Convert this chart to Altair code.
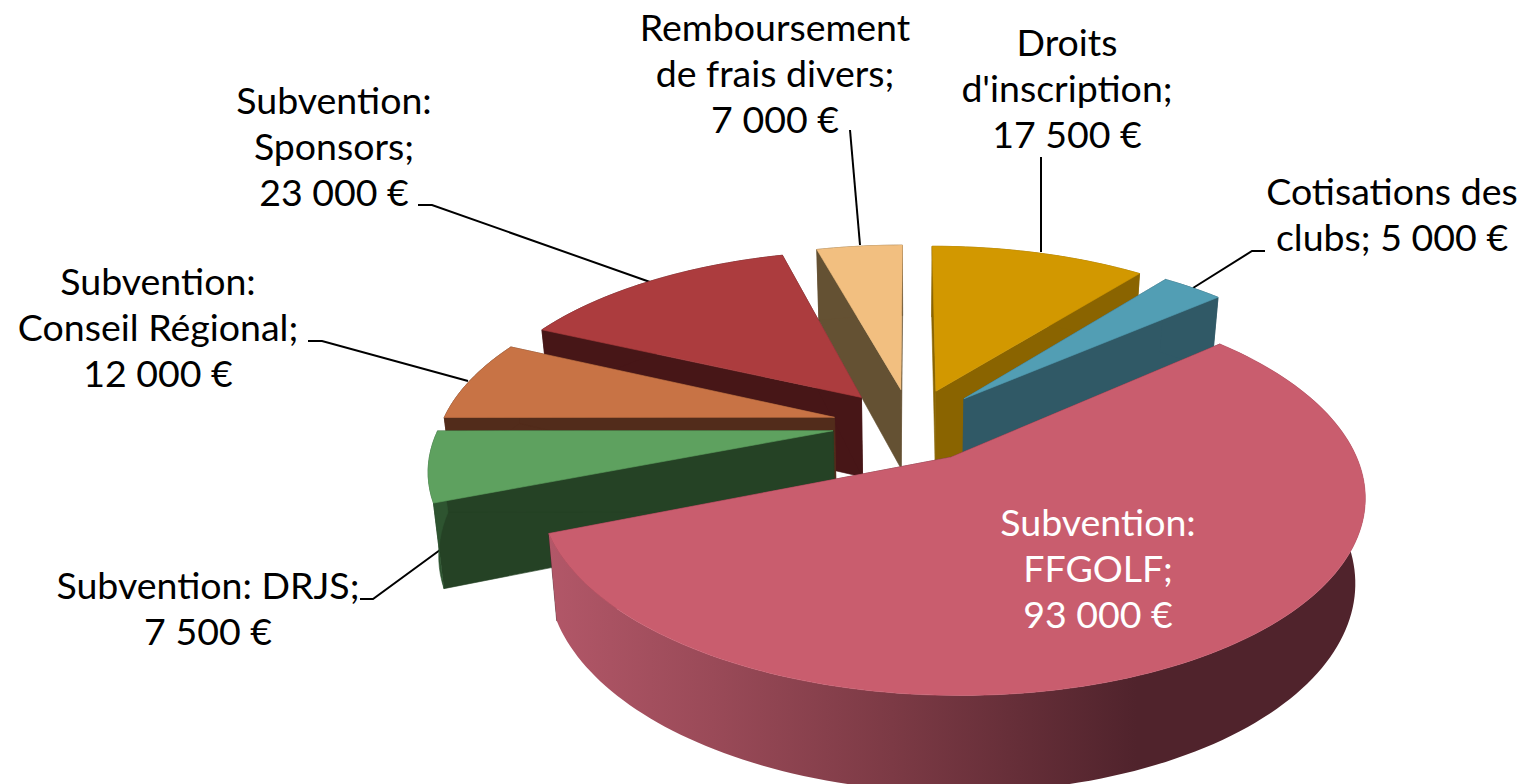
import math
import altair as alt
import pandas as pd

# ---- values (clockwise from 12 o'clock)
categories = ["Droits d'inscription", "Cotisations des clubs", "Subvention: FFGOLF", "Subvention: DRJS",
              "Subvention: Conseil Régional", "Subvention: Sponsors", "Remboursement de frais divers"]
values = [17500, 5000, 93000, 7500, 12000, 23000, 7000]
label_lines = [["Droits", "d'inscription;"], ["Cotisations des", "clubs;"], ["Subvention:", "FFGOLF;"],
               ["Subvention: DRJS;"], ["Subvention:", "Conseil Régional;"], ["Subvention:", "Sponsors;"],
               ["Remboursement", "de frais divers;"]]
top_colors = ["#D29800", "#529EB4", "#C95D6E", "#5EA15F", "#C87345", "#AC3C3E", "#F2BF80"]
wall_colors = ["#8A6400", "#305966", "#50232C", "#254225", "#522C1B", "#471617", "#645133"]
rim_colors = ["#8A6400", "#305966", "#50232C", "#2E5430", "#522C1B", "#471617", "#645133"]
draw_order = [0, 1, 6, 5, 4, 3, 2]
big_slice = 2

# layout of the labels: first text line of each block, and its leader line
label_x = [1067, 1392, 1098, 208, 158, 334, 775]
label_y = [45, 194, 525, 588, 284, 103, 30]
LINE_H = 46
leaders = {0: [(1041, 157), (1041, 252)],
           1: [(1265, 251), (1252, 251), (1193, 288)],
           3: [(360, 599), (373, 599), (440, 550)],
           4: [(308, 341), (322, 341), (468, 381)],
           5: [(418, 205), (432, 205), (650, 282)],
           6: [(850, 130), (860, 245)]}

# ---- 3-D pie projection
CX, CY, A, B, K, Q, H, EXPL = 911, 424.5, 393, 182, 0.18, 0.978, 81, 0.2
# small view correction of the drawn angle, in degrees (camera rotation of the original 3-D view)
VIEW_DEG = [0, 200, 252, 268.4, 294.6, 345, 360]
VIEW_OFF = [0, 0, -3.5, 1.6, 0.4, 0, 0]


def view(a):
    d = math.degrees(a)
    for d0, d1, o0, o1 in zip(VIEW_DEG, VIEW_DEG[1:], VIEW_OFF, VIEW_OFF[1:]):
        if d <= d1:
            return math.radians(d + o0 + (o1 - o0) * (d - d0) / (d1 - d0))
    return a


def proj(px, py, bottom=False):
    s = 1 / (1 + K * py)
    x = CX + A * px * s
    y = CY - B * py * s
    if bottom:
        x = CX + (x - CX) * Q
        y = CY + (y - CY) * Q + H * s
    return x, y


back, top = [], []
wall_rows = []
pid = 0


def add(store, points, color):
    global pid
    pid += 1
    for n, (x, y) in enumerate(points + points[:1]):
        store.append({"poly": pid, "v": n, "x": x, "y": y, "c": color})


total = sum(values)
starts, acc = [], 0.0
for v in values:
    starts.append(acc)
    acc += v / total * 2 * math.pi

for i in draw_order:
    a0 = starts[i]
    a1 = a0 + values[i] / total * 2 * math.pi
    mid = (a0 + a1) / 2
    ox, oy = EXPL * math.sin(mid), EXPL * math.cos(mid)
    pt = lambda a: (ox + math.sin(view(a)), oy + math.cos(view(a)))
    n = max(3, int((a1 - a0) * 40))
    ang = [a0 + (a1 - a0) * j / n for j in range(n + 1)]
    apex = (ox, oy)
    for a in (a0, a1):
        add(back, [proj(*apex), proj(*pt(a)), proj(*pt(a), True), proj(*apex, True)], wall_colors[i])
    rim = [proj(*pt(a)) for a in ang] + [proj(*pt(a), True) for a in reversed(ang)]
    face = [proj(*apex)] + [proj(*pt(a)) for a in ang]
    if i == big_slice:
        add(wall_rows, rim, wall_colors[i])
        add(top, face, top_colors[i])
    else:
        add(back, rim, rim_colors[i])
        add(back, face, top_colors[i])

xs = alt.Scale(domain=[8, 1526], nice=False, zero=False)
ys = alt.Scale(domain=[784, 8], nice=False, zero=False)
X = alt.X("x:Q", scale=xs, axis=None)
Y = alt.Y("y:Q", scale=ys, axis=None)


def polygons(rows):
    return alt.Chart(pd.DataFrame(rows)).mark_line(filled=True, strokeWidth=0.6, clip=True).encode(
        x=X, y=Y, order="v:Q", detail="poly:N",
        fill=alt.Fill("c:N", scale=None, legend=None),
        stroke=alt.Stroke("c:N", scale=None, legend=None))


shade = alt.Gradient(gradient="linear", x1=0, x2=1, y1=0, y2=0, stops=[
    alt.GradientStop(color="#B25768", offset=0),
    alt.GradientStop(color="#9A4A58", offset=0.2),
    alt.GradientStop(color="#7C3A45", offset=0.42),
    alt.GradientStop(color="#50232C", offset=0.72),
    alt.GradientStop(color="#50232C", offset=1)])
wall = alt.Chart(pd.DataFrame(wall_rows)).mark_line(filled=True, color=shade, strokeWidth=0, clip=True).encode(
    x=X, y=Y, order="v:Q", detail="poly:N")

leader_rows = [{"k": k, "v": n, "x": p[0], "y": p[1]} for k, pts in leaders.items() for n, p in enumerate(pts)]
lead = alt.Chart(pd.DataFrame(leader_rows)).mark_line(color="black", strokeWidth=2).encode(
    x=X, y=Y, order="v:Q", detail="k:N")

text_rows = []
for i, cat in enumerate(categories):
    amount = f"{values[i]:,}".replace(",", " ") + " €"
    lines = list(label_lines[i])
    if i == 1:
        lines[-1] += " " + amount
    else:
        lines.append(amount)
    for n, line in enumerate(lines):
        text_rows.append({"t": line, "x": label_x[i], "y": label_y[i] + n * LINE_H,
                          "c": "white" if i == 2 else "black", "cat": cat})

labels = alt.Chart(pd.DataFrame(text_rows)).mark_text(
    font="Lato", fontSize=37.5, align="center", baseline="middle"
).encode(x=X, y=Y, text="t:N", color=alt.Color("c:N", scale=None, legend=None))

chart = alt.layer(lead, polygons(back), wall, polygons(top), labels).properties(
    width=1518, height=776, padding=0).configure_view(stroke=None)
chart.save("out.html", embed_options={"renderer": "svg", "actions": False})
